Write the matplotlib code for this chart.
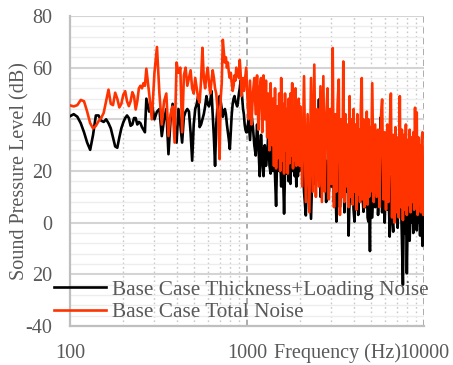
import matplotlib
matplotlib.use("Agg")
import matplotlib.pyplot as plt
from matplotlib.ticker import FixedLocator, NullFormatter, FixedFormatter
import numpy as np

plt.rcParams['font.family'] = ['Liberation Serif', 'DejaVu Serif']

# ---------------- data ----------------
F_LOW = [100, 105, 110, 115, 120, 125, 130, 135, 140, 145, 150, 155, 160, 165, 170, 175, 180, 185,
         190, 195, 200, 205, 210, 215, 220, 225, 230, 235, 240, 245, 250, 255, 260, 265, 270]
F_MID = [280, 290, 300, 310, 320, 330, 340, 350, 360, 370, 380, 390, 400, 410, 420, 430, 440, 450,
         460, 470, 480, 490, 500, 510, 520, 530, 540, 550, 560, 570, 580, 590, 600, 610, 620, 630,
         640, 650, 660, 670, 680, 690, 700, 710, 720, 730, 740, 750, 760, 770, 780, 790, 800, 810,
         820, 830, 840, 850, 860, 870, 880, 890, 900, 910, 920, 930, 940, 950, 960, 970, 980, 990]
F_HI1 = [1000, 1020, 1040, 1060, 1080, 1100, 1120, 1140, 1160, 1180, 1200, 1220, 1240, 1260, 1280,
         1300, 1320, 1340, 1360, 1380, 1400, 1420, 1440, 1460, 1480, 1500, 1520, 1540, 1560, 1580,
         1600, 1620, 1640, 1660, 1680, 1700, 1720, 1740, 1760, 1780, 1800, 1820, 1840, 1860, 1880,
         1900, 1920, 1940, 1960, 1980]
F_HI2 = [2000, 2050, 2100, 2150, 2200, 2250, 2300, 2350, 2400, 2450, 2500, 2550, 2600, 2650, 2700,
         2750, 2800, 2850, 2900, 2950, 3000, 3050, 3100, 3150, 3200, 3250, 3300, 3350, 3400, 3450,
         3500, 3550, 3600, 3650, 3700, 3750, 3800, 3850, 3900, 3950, 4000, 4050, 4100, 4150, 4200,
         4250, 4300, 4350, 4400, 4450, 4500, 4550, 4600, 4650, 4700, 4750, 4800, 4850, 4900, 4950]
F_HI3 = [5000, 5100, 5200, 5300, 5400, 5500, 5600, 5700, 5800, 5900, 6000, 6100, 6200, 6300, 6400,
         6500, 6600, 6700, 6800, 6900, 7000, 7100, 7200, 7300, 7400, 7500, 7600, 7700, 7800, 7900,
         8000, 8100, 8200, 8300, 8400, 8500, 8600, 8700, 8800, 8900, 9000, 9100, 9200, 9300, 9400,
         9500, 9600, 9700, 9800, 9900, 10000]

# Base Case Thickness+Loading Noise (black)
TL_LOW = [41.2, 42, 41, 38.5, 35, 31, 28.2, 34, 41.5, 41.5, 39.5, 39, 40, 38.5, 36.5, 33, 29.5, 29,
          33, 36.5, 38.8, 40.5, 41.5, 40.5, 37.5, 38, 40.5, 40.5, 38, 39, 38.5, 37, 36, 35, 48]
TL_MID = [43, 46, 40, 43, 44, 33.5, 40, 44, 26.5, 40, 46, 38, 31, 44, 38, 31, 41, 43,
          44, 43, 35, 24, 38, 44, 46, 49, 37, 38, 40, 42, 45, 49, 46, 45, 47, 51,
          42, 33, 22, 38, 44, 46, 49, 47, 44, 41, 43, 44, 42, 38, 35, 32, 28.5, 35,
          42, 46, 48, 49, 47, 46, 45, 47, 50, 52, 55, 53, 48, 44, 42, 38, 36, 35]
TL_HI1 = [35, 40, 32, 42, 37, 30, 26, 38, 30, 18, 34, 24, 18, 30, 22, 26, 35, 22, 19, 32,
          20, 28, 18, 6.5, 26, 30, 20, 26, 14, 28, 18, 3.5, 20, 30, 19, 25, 16, 24, 15, 28,
          20, 30, 23, 18, 26, 14, 24, 18, 28, 20]
TL_HI2 = [22, 30, 12, 2.8, 25, 18, 1.5, 24, 15, 28, 20, 47.7, 10, 22, 14, 30, 8, 24, 12, 20,
          14, 26, 8, 18, 0.4, 22, 37, 6, 20, 10, 24, 4, 38.8, 12, 18, -5, 10, 22, 8, 16,
          5, 0.4, 24, 10, 18, 3, 20, 8, 15, 12, 10, 4.2, 18, 6, 14, 20, 2, 0.4, 12, -11]
TL_HI3 = [20, 2, 18, 6, 24, 3, 15, 40.8, 4, 16, 0, 20, 5, 14, -5.4, 18, 2, -3.5, 16, 4,
          12, -2, 15, 3, 10, -6, -24, 8, -4, 12, -19.6, 6, -2, -7, 10, 0, 14, -4, 8, 2,
          12, -3, 6, 0, 10, -5, 4, 2, -9, 6, -8]

# Base Case Total Noise (red)
TOT_LOW = [45.4, 45, 45.5, 47.5, 47, 43, 38.5, 36.5, 37.5, 39.3, 40.5, 42.5, 47, 51.5, 46, 45.5, 50.3, 48,
           44.6, 46, 49.5, 50.9, 47, 45.1, 47, 50.5, 49, 43.8, 47, 52, 53, 52, 54, 53, 59.6]
TOT_MID = [50, 40, 58, 68, 50, 38, 47, 50, 33.5, 42, 45, 31, 62, 58, 60, 35, 57, 60,
           53, 56, 59, 52, 50, 56, 52, 48, 46.5, 55, 67.7, 56, 52, 57, 60, 54, 50, 55,
           59, 56, 52, 50, 45, 38, 24.6, 48, 54, 70.8, 66, 62, 64, 60, 62, 58, 56, 58,
           54, 51, 53, 57, 55, 60, 57, 59, 56, 63, 58, 49, 53, 56, 51, 54, 57, 60]
TOT_HI1 = [52, 40, 55, 38, 50, 56, 42, 57, 36, 52, 56, 35, 57, 40, 55, 33, 50, 28, 54, 30,
           48, 22, 52, 21, 45, 25, 50, 20, 56, 24, 46, 19, 50, 28, 44, 19, 48, 23, 50, 26,
           54, 21, 45, 24, 52, 22, 44, 25, 48, 22]
TOT_HI2 = [45, 14, 56.7, 8, 42, 4, 56, 12, 61.2, 10, 44, 14, 52.8, 8, 56.7, 12, 40, 52, 9, 44,
           15, 67.6, 6, 42, 12, 46, 55.4, 3, 40, 10, 62.4, 8, 42, 14, 38, 6, 49, 10, 40, 7,
           44, 12, 38, 5, 42, 11, 36, 8, 45, 56, 9, 40, 6, 38, 12, 43, 7, 40, 10, 37]
TOT_HI3 = [12, 54, 8, 38, 10, 36, 6, 40, 47.7, 9, 35, 5, 38, 8, 36, 50, 2, 34, 0, 37,
           4, 33, 2, 49, 6, 36, 1, 34, 5, 38, 3, 32, 7, 36, 4, 33, 8, 35, 5, 44.5,
           6, 42.7, 3, 33, 7, 30, 4, 32, 35, 3, 20]

SERIES_NAMES = ["Base Case Thickness+Loading Noise", "Base Case Total Noise"]
Y_TICKS = [-40, -20, 0, 20, 40, 60, 80]
Y_TICK_LABELS = ["-40", "20", "0", "20", "40", "60", "80"]
X_TICKS = [100, 1000, 10000]
X_TICK_LABELS = ["100", "1000", "10000"]

freq = np.array(F_LOW + F_MID + F_HI1 + F_HI2 + F_HI3, dtype=float)
tl = np.array(TL_LOW + TL_MID + TL_HI1 + TL_HI2 + TL_HI3, dtype=float)
tot = np.array(TOT_LOW + TOT_MID + TOT_HI1 + TOT_HI2 + TOT_HI3, dtype=float)

# ---------------- figure ----------------
W, H = 453, 365
fig = plt.figure(figsize=(W / 100, H / 100), dpi=100)
L, R, T, B = 70, 424, 16, 326
ax = fig.add_axes([L / W, 1 - B / H, (R - L) / W, (B - T) / H])

TXT = '#595959'
FS = 14.5

l1, = ax.plot(freq, tl, color='black', lw=1.9, zorder=3)
l2, = ax.plot(freq, tot, color='#FF3300', lw=1.9, zorder=4)

ax.set_xscale('log')
ax.set_xlim(100, 10000)
ax.set_ylim(-40, 80)

ax.yaxis.set_major_locator(FixedLocator(Y_TICKS))
ax.yaxis.set_major_formatter(FixedFormatter(Y_TICK_LABELS))
ax.yaxis.set_minor_locator(FixedLocator(list(range(-40, 81, 4))))
ax.xaxis.set_major_locator(FixedLocator(X_TICKS))
ax.xaxis.set_major_formatter(FixedFormatter(X_TICK_LABELS))
ax.xaxis.set_minor_locator(FixedLocator([m * d for d in (100, 1000) for m in range(2, 10)]))
ax.xaxis.set_minor_formatter(NullFormatter())

ax.set_axisbelow(True)
ax.yaxis.grid(True, which='minor', color='#EDEDED', lw=1.0)
ax.yaxis.grid(True, which='major', color='#D4D4D4', lw=1.5)
ax.xaxis.grid(True, which='minor', color='#C8C8C8', lw=1.0, linestyle=(0, (1.2, 2)))
ax.xaxis.grid(True, which='major', color='#A6A6A6', lw=1.3, linestyle=(0, (3.5, 2.5)))

for s in ('top', 'right'):
    ax.spines[s].set_visible(False)
for s in ('left', 'bottom'):
    ax.spines[s].set_color('#BFBFBF')
    ax.spines[s].set_linewidth(1.6)

ax.tick_params(axis='both', which='both', length=0)
ax.tick_params(axis='y', pad=13, labelsize=FS, labelcolor=TXT)
ax.tick_params(axis='x', pad=13, labelsize=FS, labelcolor=TXT)

ax.set_ylabel('Sound Pressure Level (dB)', fontsize=FS, color=TXT, va='center')
ax.yaxis.set_label_coords((20 - L) / (R - L), 0.5)
ax.set_xlabel('Frequency (Hz)', fontsize=FS, color=TXT, va='center')
ax.xaxis.set_label_coords((337 - L) / (R - L), (B - 353) / (B - T))

leg = fig.legend([l1, l2], SERIES_NAMES, loc='upper left',
                 bbox_to_anchor=(54 / W, 1 - 280 / H), frameon=False,
                 fontsize=15.3, handlelength=2.45, handletextpad=0.3,
                 labelspacing=0.12, borderpad=0, borderaxespad=0)
for t in leg.get_texts():
    t.set_color(TXT)
for h in leg.get_lines():
    h.set_linewidth(1.9)

fig.savefig('out.png', dpi=100)
